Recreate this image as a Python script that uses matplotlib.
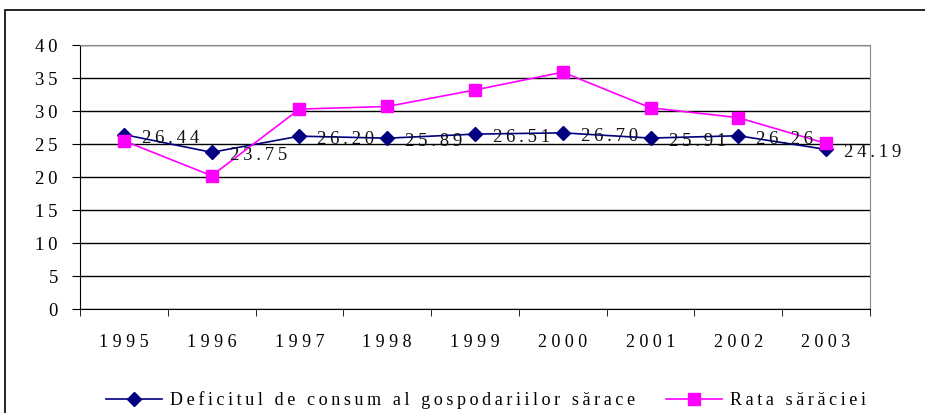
import matplotlib.pyplot as plt
from matplotlib.patches import Rectangle

years = ['1995', '1996', '1997', '1998', '1999', '2000', '2001', '2002', '2003']
deficit = [26.44, 23.75, 26.20, 25.89, 26.51, 26.70, 25.91, 26.26, 24.19]
rata = [25.5, 20.2, 30.3, 30.7, 33.2, 35.9, 30.5, 29.0, 25.1]
name_deficit = 'Deficitul de consum al gospodariilor sărace'
name_rata = 'Rata sărăciei'

plt.rcParams['font.family'] = ['Liberation Serif', 'DejaVu Serif']

THIN = '\u2009'


def spaced(s, sep):
    # fake letter spacing, the original text is spread out
    return sep.join(s)


fig = plt.figure(figsize=(9.25, 4.13), dpi=100)
ax = fig.add_axes([0.0865, 0.2518, 0.854, 0.639])

# outer frame
fig.patches.append(Rectangle((0.005, -0.1), 1.2, 1.1 - 10 / 413, transform=fig.transFigure,
                             fill=False, edgecolor='black', lw=1.2))

x = list(range(len(years)))
ax.plot(x, deficit, color='#000080', marker='D', markersize=7, lw=1.2,
        label=spaced(name_deficit, THIN), zorder=3)
ax.plot(x, rata, color='#FF00FF', marker='s', markersize=9, lw=1.2,
        label=spaced(name_rata, THIN), zorder=3)

for i, v in enumerate(deficit):
    ax.annotate(spaced(f'{v:.2f}', THIN), (i, v), xytext=(13, -2.5), textcoords='offset points',
                ha='left', va='center', fontsize=13.5, color='#111111', zorder=4)

ax.set_xlim(-0.5, len(years) - 0.5)
ax.set_ylim(0, 40)
ax.set_yticks(range(0, 41, 5))
ax.set_yticklabels([spaced(str(v), THIN) for v in range(0, 41, 5)])
ax.set_xticks(x)
ax.set_xticklabels([spaced(y, ' ') for y in years], fontsize=13)
ax.set_xticks([i + 0.5 for i in range(-1, len(years))], minor=True)
ax.tick_params(axis='x', which='major', length=0, pad=18)
ax.tick_params(axis='x', which='minor', length=5, color='black')
ax.tick_params(axis='y', labelsize=13.5, length=6, color='black', pad=10)

ax.grid(axis='y', color='black', lw=1)
ax.set_axisbelow(True)
for s in ['top', 'right']:
    ax.spines[s].set_color('#888888')
ax.spines['left'].set_color('black')
ax.spines['bottom'].set_color('black')

fig.legend(loc='lower center', bbox_to_anchor=(0.525, -0.03), ncol=2, frameon=False,
           fontsize=13, handlelength=3.1, columnspacing=1.7, handletextpad=0.45)

fig.savefig('out.png', dpi=100)
